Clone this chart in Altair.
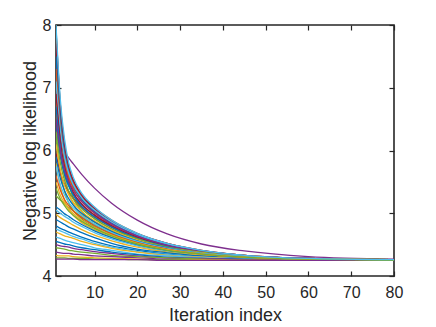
import altair as alt
import pandas as pd

ITERS = [1, 2, 3, 4, 5, 7, 10, 14, 20, 27, 35, 45, 60, 80]

# slow outlier run (drawn first)
OUTLIER = [6.20, 6.09, 5.98, 5.88, 5.79, 5.62, 5.40, 5.16, 4.89, 4.67, 4.51, 4.40, 4.31, 4.27]

CURVES = [
    [7.95, 6.74, 6.08, 5.71, 5.48, 5.23, 5.03, 4.84, 4.65, 4.50, 4.40, 4.32, 4.28, 4.26],
    [7.80, 6.58, 5.92, 5.55, 5.33, 5.10, 4.92, 4.75, 4.59, 4.46, 4.38, 4.31, 4.27, 4.26],
    [7.60, 6.43, 5.81, 5.46, 5.25, 5.03, 4.86, 4.71, 4.56, 4.45, 4.36, 4.31, 4.27, 4.26],
    [7.40, 6.51, 6.01, 5.72, 5.53, 5.30, 5.09, 4.89, 4.68, 4.52, 4.41, 4.33, 4.28, 4.26],
    [7.20, 6.19, 5.64, 5.33, 5.15, 4.96, 4.81, 4.67, 4.53, 4.43, 4.35, 4.30, 4.27, 4.26],
    [7.00, 6.29, 5.88, 5.63, 5.47, 5.27, 5.07, 4.87, 4.67, 4.51, 4.40, 4.33, 4.28, 4.26],
    [6.80, 6.00, 5.57, 5.31, 5.16, 4.98, 4.83, 4.69, 4.55, 4.44, 4.36, 4.31, 4.27, 4.26],
    [6.60, 6.07, 5.76, 5.56, 5.42, 5.24, 5.05, 4.86, 4.66, 4.51, 4.40, 4.33, 4.28, 4.26],
    [6.40, 5.90, 5.61, 5.43, 5.31, 5.14, 4.97, 4.80, 4.62, 4.48, 4.39, 4.32, 4.28, 4.26],
    [6.20, 5.65, 5.35, 5.16, 5.05, 4.91, 4.78, 4.65, 4.52, 4.42, 4.35, 4.30, 4.27, 4.26],
    [5.95, 5.65, 5.46, 5.34, 5.24, 5.10, 4.94, 4.78, 4.60, 4.47, 4.38, 4.32, 4.27, 4.26],
    [5.80, 5.42, 5.20, 5.06, 4.97, 4.85, 4.74, 4.62, 4.50, 4.41, 4.34, 4.30, 4.27, 4.25],
    [5.28, 5.21, 5.15, 5.09, 5.04, 4.94, 4.82, 4.68, 4.54, 4.43, 4.36, 4.30, 4.27, 4.26],
    [5.10, 5.05, 4.99, 4.95, 4.90, 4.82, 4.72, 4.61, 4.49, 4.40, 4.34, 4.30, 4.27, 4.25],
    [5.05, 5.00, 4.95, 4.91, 4.86, 4.79, 4.69, 4.59, 4.48, 4.39, 4.33, 4.29, 4.27, 4.25],
    [4.98, 4.93, 4.89, 4.85, 4.81, 4.74, 4.65, 4.56, 4.46, 4.38, 4.33, 4.29, 4.26, 4.25],
    [4.90, 4.86, 4.82, 4.78, 4.75, 4.69, 4.61, 4.52, 4.43, 4.37, 4.32, 4.28, 4.26, 4.25],
    [4.80, 4.76, 4.73, 4.70, 4.67, 4.62, 4.55, 4.48, 4.41, 4.35, 4.31, 4.28, 4.26, 4.25],
    [4.75, 4.72, 4.69, 4.66, 4.63, 4.59, 4.52, 4.46, 4.39, 4.34, 4.30, 4.28, 4.26, 4.25],
    [4.70, 4.67, 4.64, 4.62, 4.60, 4.55, 4.50, 4.44, 4.38, 4.33, 4.30, 4.27, 4.26, 4.25],
    [4.62, 4.60, 4.57, 4.55, 4.53, 4.50, 4.45, 4.41, 4.35, 4.32, 4.29, 4.27, 4.26, 4.25],
    [4.55, 4.53, 4.51, 4.50, 4.48, 4.45, 4.42, 4.38, 4.34, 4.30, 4.28, 4.27, 4.26, 4.25],
    [4.50, 4.48, 4.47, 4.46, 4.44, 4.42, 4.39, 4.36, 4.32, 4.29, 4.28, 4.26, 4.25, 4.25],
    [4.45, 4.44, 4.43, 4.41, 4.40, 4.38, 4.36, 4.33, 4.31, 4.29, 4.27, 4.26, 4.25, 4.25],
    [4.38, 4.37, 4.36, 4.36, 4.35, 4.34, 4.32, 4.31, 4.29, 4.27, 4.26, 4.26, 4.25, 4.25],
    [4.33, 4.32, 4.32, 4.32, 4.31, 4.30, 4.29, 4.28, 4.27, 4.26, 4.26, 4.25, 4.25, 4.25],
    [4.29, 4.29, 4.29, 4.28, 4.28, 4.28, 4.27, 4.27, 4.26, 4.26, 4.25, 4.25, 4.25, 4.25],
    [4.27, 4.27, 4.27, 4.27, 4.27, 4.26, 4.26, 4.26, 4.26, 4.25, 4.25, 4.25, 4.25, 4.25],
    [7.90, 6.74, 6.10, 5.74, 5.51, 5.26, 5.05, 4.86, 4.66, 4.51, 4.40, 4.33, 4.28, 4.26],
    [7.70, 6.65, 6.08, 5.74, 5.53, 5.29, 5.08, 4.88, 4.67, 4.52, 4.41, 4.33, 4.28, 4.26],
    [7.50, 6.51, 5.96, 5.65, 5.45, 5.22, 5.02, 4.84, 4.65, 4.50, 4.40, 4.32, 4.28, 4.26],
    [7.30, 6.39, 5.88, 5.59, 5.40, 5.19, 5.00, 4.82, 4.63, 4.49, 4.39, 4.32, 4.28, 4.26],
    [7.10, 6.33, 5.89, 5.63, 5.46, 5.25, 5.05, 4.86, 4.66, 4.51, 4.40, 4.33, 4.28, 4.26],
    [6.90, 6.16, 5.74, 5.50, 5.34, 5.15, 4.97, 4.80, 4.62, 4.48, 4.39, 4.32, 4.28, 4.26],
    [6.70, 6.04, 5.66, 5.44, 5.29, 5.11, 4.94, 4.78, 4.60, 4.47, 4.38, 4.32, 4.27, 4.26],
    [6.50, 5.99, 5.69, 5.50, 5.37, 5.19, 5.01, 4.83, 4.64, 4.49, 4.39, 4.32, 4.28, 4.26],
    [6.30, 5.81, 5.52, 5.35, 5.23, 5.07, 4.91, 4.75, 4.59, 4.46, 4.38, 4.31, 4.27, 4.26],
    [6.10, 5.69, 5.44, 5.29, 5.18, 5.03, 4.88, 4.73, 4.57, 4.45, 4.37, 4.31, 4.27, 4.26],
    [5.90, 5.56, 5.36, 5.23, 5.13, 5.00, 4.86, 4.71, 4.56, 4.45, 4.36, 4.31, 4.27, 4.26],
    [5.75, 5.46, 5.29, 5.17, 5.09, 4.96, 4.83, 4.69, 4.55, 4.44, 4.36, 4.31, 4.27, 4.26],
    [5.60, 5.37, 5.22, 5.12, 5.04, 4.93, 4.80, 4.67, 4.53, 4.43, 4.35, 4.30, 4.27, 4.26],
    [5.50, 5.29, 5.16, 5.07, 5.00, 4.89, 4.77, 4.65, 4.52, 4.42, 4.35, 4.30, 4.27, 4.26],
    [5.40, 5.23, 5.12, 5.03, 4.97, 4.87, 4.76, 4.64, 4.51, 4.41, 4.35, 4.30, 4.27, 4.25],
    [8.00, 6.82, 6.18, 5.80, 5.58, 5.32, 5.10, 4.89, 4.68, 4.52, 4.41, 4.33, 4.28, 4.26],
]

OUTLIER_COLOR = "#7E2F8E"
COLORS = [
    "#0072BD", "#EDB120", "#77AC30", "#D95319", "#4DBEEE", "#A2142F", "#EDB120",
    "#D95319", "#0072BD", "#77AC30", "#A2142F", "#EDB120",
    "#77AC30", "#0072BD", "#4DBEEE", "#EDB120", "#0072BD", "#0072BD", "#4DBEEE",
    "#EDB120", "#4DBEEE", "#0072BD", "#7E2F8E", "#77AC30", "#7E2F8E", "#EDB120",
    "#77AC30", "#7E2F8E",
    "#D95319", "#A2142F", "#0072BD", "#D95319", "#4DBEEE", "#A2142F", "#0072BD",
    "#7E2F8E", "#77AC30", "#EDB120", "#0072BD", "#4DBEEE", "#D95319", "#EDB120",
    "#77AC30", "#4DBEEE",
]

X_TICKS = [10, 20, 30, 40, 50, 60, 70, 80]
Y_TICKS = [4, 5, 6, 7, 8]

rows = []
all_curves = [OUTLIER] + CURVES
all_colors = [OUTLIER_COLOR] + COLORS
for i, (vals, col) in enumerate(zip(all_curves, all_colors)):
    for t, v in zip(ITERS, vals):
        rows.append({"run": f"r{i:02d}", "iter": t, "nll": v, "col": col})
df = pd.DataFrame(rows)

FONT = "Liberation Sans"
INK = "#262626"

xscale = alt.Scale(domain=[1, 80], nice=False, zero=False)
yscale = alt.Scale(domain=[4, 8], nice=False, zero=False)

common_axis = dict(domain=False, offset=-5, tickSize=5, tickColor=INK, tickWidth=1.2,
                   grid=False, labelFont=FONT, labelFontSize=16, labelColor=INK,
                   labelFlush=False, labelOverlap=False,
                   titleFont=FONT, titleFontSize=18, titleColor=INK,
                   titleFontWeight="normal")

lines = alt.Chart(df).mark_line(strokeWidth=1.3, interpolate="monotone", clip=True).encode(
    x=alt.X("iter:Q", scale=xscale,
            axis=alt.Axis(values=X_TICKS, title="Iteration index", orient="bottom",
                          labelPadding=8, titlePadding=6, **common_axis)),
    y=alt.Y("nll:Q", scale=yscale,
            axis=alt.Axis(values=Y_TICKS, title="Negative log likelihood", orient="left",
                          labelPadding=5, titlePadding=3, **common_axis)),
    color=alt.Color("col:N", scale=None),
    detail="run:N",
)

mirror = alt.Chart(df).mark_line(opacity=0).encode(
    x=alt.X("iter:Q", scale=xscale,
            axis=alt.Axis(values=X_TICKS, title=None, orient="top", labels=False,
                          **common_axis)),
    y=alt.Y("nll:Q", scale=yscale,
            axis=alt.Axis(values=Y_TICKS, title=None, orient="right", labels=False,
                          **common_axis)),
    detail="run:N",
)

chart = alt.layer(lines, mirror).resolve_axis(
    x="independent", y="independent"
).properties(
    width=338, height=251,
    autosize=alt.AutoSizeParams(type="none"),
    padding={"left": 48, "top": 17, "right": 34, "bottom": 51},
    background="white",
).configure_view(
    stroke=INK, strokeWidth=1.6
)

chart.save("out.html", embed_options={"renderer": "svg", "actions": False})
